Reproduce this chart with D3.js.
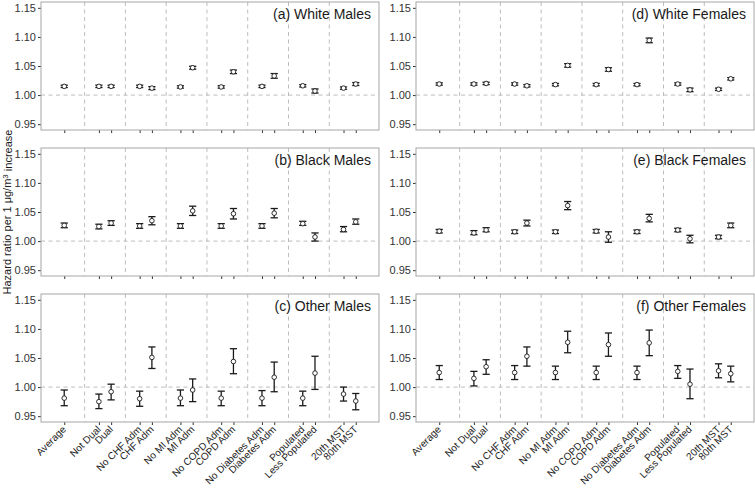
<!DOCTYPE html>
<html><head><meta charset="utf-8">
<script src="https://cdn.jsdelivr.net/npm/d3@7"></script>
<style>
html,body{margin:0;padding:0;background:#fff;}
svg{display:block;font-family:"Liberation Sans",Arial,sans-serif;}
</style></head>
<body>
<svg id="chart" width="755" height="490"></svg>
<script>
// Categories (x-axis tick labels), their group index and side within group
const categories = ["Average","Not Dual","Dual","No CHF Adm","CHF Adm","No MI Adm","MI Adm",
  "No COPD Adm","COPD Adm","No Diabetes Adm","Diabetes Adm","Populated","Less Populated","20th MST","80th MST"];
const groupIndex = [1,2,2,3,3,4,4,5,5,6,6,7,7,8,8];
const groupSide  = [0,-1,1,-1,1,-1,1,-1,1,-1,1,-1,1,-1,1];
const yTicks = [0.95,1.00,1.05,1.10,1.15];
const panelTitles = ["(a) White Males","(b) Black Males","(c) Other Males",
  "(d) White Females","(e) Black Females","(f) Other Females"];

// Hazard ratio estimates, lower and upper 95% CI
const whiteMalesEst = [1.015,1.015,1.015,1.015,1.012,1.014,1.047,1.014,1.040,1.015,1.033,1.016,1.007,1.012,1.019];
const whiteMalesLo  = [1.013,1.013,1.013,1.013,1.0095,1.012,1.0445,1.012,1.037,1.013,1.029,1.014,1.0035,1.010,1.0165];
const whiteMalesHi  = [1.017,1.017,1.017,1.017,1.0145,1.016,1.0495,1.016,1.043,1.017,1.037,1.018,1.0105,1.014,1.0215];

const blackMalesEst = [1.027,1.025,1.031,1.026,1.035,1.026,1.052,1.026,1.047,1.026,1.048,1.030,1.007,1.020,1.033];
const blackMalesLo  = [1.023,1.021,1.027,1.022,1.028,1.022,1.044,1.022,1.038,1.022,1.040,1.027,1.000,1.016,1.029];
const blackMalesHi  = [1.031,1.029,1.035,1.030,1.042,1.030,1.060,1.030,1.056,1.030,1.056,1.034,1.014,1.025,1.038];

const otherMalesEst = [0.981,0.975,0.992,0.980,1.051,0.981,0.995,0.981,1.044,0.981,1.017,0.981,1.024,0.988,0.976];
const otherMalesLo  = [0.968,0.963,0.978,0.967,1.032,0.968,0.975,0.968,1.023,0.968,0.992,0.968,0.996,0.976,0.961];
const otherMalesHi  = [0.995,0.988,1.005,0.993,1.069,0.995,1.014,0.993,1.066,0.994,1.043,0.993,1.053,1.000,0.989];

const whiteFemalesEst = [1.019,1.019,1.020,1.019,1.016,1.018,1.051,1.018,1.044,1.018,1.094,1.019,1.009,1.010,1.028];
const whiteFemalesLo  = [1.017,1.017,1.018,1.017,1.014,1.016,1.048,1.016,1.041,1.016,1.090,1.017,1.006,1.008,1.026];
const whiteFemalesHi  = [1.021,1.021,1.022,1.021,1.018,1.020,1.054,1.020,1.047,1.020,1.098,1.021,1.012,1.012,1.030];

const blackFemalesEst = [1.017,1.014,1.019,1.016,1.031,1.016,1.061,1.017,1.007,1.016,1.039,1.019,1.004,1.007,1.027];
const blackFemalesLo  = [1.014,1.011,1.016,1.013,1.026,1.013,1.054,1.014,0.998,1.013,1.033,1.016,0.997,1.004,1.023];
const blackFemalesHi  = [1.020,1.018,1.023,1.019,1.036,1.019,1.068,1.020,1.016,1.019,1.046,1.022,1.010,1.010,1.031];

const otherFemalesEst = [1.025,1.015,1.035,1.025,1.053,1.025,1.077,1.025,1.073,1.025,1.076,1.027,1.005,1.028,1.023];
const otherFemalesLo  = [1.013,1.002,1.022,1.013,1.036,1.013,1.059,1.013,1.053,1.013,1.054,1.015,0.980,1.016,1.009];
const otherFemalesHi  = [1.037,1.027,1.047,1.037,1.069,1.036,1.096,1.036,1.093,1.036,1.098,1.037,1.031,1.040,1.036];

const panels = [
  {title: panelTitles[0], est: whiteMalesEst,   lo: whiteMalesLo,   hi: whiteMalesHi,   col:0,row:0},
  {title: panelTitles[1], est: blackMalesEst,   lo: blackMalesLo,   hi: blackMalesHi,   col:0,row:1},
  {title: panelTitles[2], est: otherMalesEst,   lo: otherMalesLo,   hi: otherMalesHi,   col:0,row:2},
  {title: panelTitles[3], est: whiteFemalesEst, lo: whiteFemalesLo, hi: whiteFemalesHi, col:1,row:0},
  {title: panelTitles[4], est: blackFemalesEst, lo: blackFemalesLo, hi: blackFemalesHi, col:1,row:1},
  {title: panelTitles[5], est: otherFemalesEst, lo: otherFemalesLo, hi: otherFemalesHi, col:1,row:2}
];

const svg = d3.select("#chart");
const colX = [41, 416], rowY = [2, 148, 294];
const pw = 338, ph = 128;
const xPos = categories.map((c,i)=> groupIndex[i] + groupSide[i]*0.15);
const dividers = d3.range(1.5, 8.5, 1);

panels.forEach(p => {
  const x0 = colX[p.col], y0 = rowY[p.row];
  const g = svg.append("g").attr("transform", `translate(${x0},${y0})`);
  const x = d3.scaleLinear().domain([0.43, 8.72]).range([0, pw]);
  const y = d3.scaleLinear().domain([0.94, 1.16]).range([ph, 0]);

  // dashed reference lines
  g.selectAll(".vdiv").data(dividers).join("line")
    .attr("x1", d=>x(d)).attr("x2", d=>x(d)).attr("y1",0).attr("y2",ph)
    .attr("stroke","#bdbdbd").attr("stroke-width",1).attr("stroke-dasharray","4,3.5");
  g.append("line").attr("x1",0).attr("x2",pw).attr("y1",y(1)).attr("y2",y(1))
    .attr("stroke","#bdbdbd").attr("stroke-width",1).attr("stroke-dasharray","4,3.5");

  // y axis
  const ya = d3.axisLeft(y).tickValues(yTicks).tickFormat(d3.format(".2f")).tickSize(3).tickPadding(2);
  const yg = g.append("g").call(ya);
  yg.select(".domain").remove();
  yg.selectAll("line").attr("stroke","#333");
  yg.selectAll("text").attr("font-size","11px").attr("fill","#333")
    .attr("font-family","Liberation Sans, Arial, sans-serif");

  // x axis
  const xa = d3.axisBottom(x).tickValues(xPos).tickFormat((d,i)=>categories[i]).tickSize(3);
  const xg = g.append("g").attr("transform",`translate(0,${ph})`).call(xa);
  xg.select(".domain").remove();
  xg.selectAll("line").attr("stroke","#333");
  if (p.row === 2) {
    xg.selectAll("text").attr("font-size","10px").attr("fill","#222")
      .attr("font-family","Liberation Sans, Arial, sans-serif")
      .attr("text-anchor","end").attr("dy",null).attr("y",null)
      .attr("transform","translate(2,8) rotate(-45)");
  } else {
    xg.selectAll("text").remove();
  }

  // error bars
  const cw = 3.6;
  const eb = g.append("g").selectAll("g").data(p.est.map((e,i)=>({e, lo:p.lo[i], hi:p.hi[i], xv:xPos[i]}))).join("g");
  eb.append("line").attr("x1",d=>x(d.xv)).attr("x2",d=>x(d.xv)).attr("y1",d=>y(d.lo)).attr("y2",d=>y(d.hi))
    .attr("stroke","#1a1a1a").attr("stroke-width",1.3);
  eb.append("line").attr("x1",d=>x(d.xv)-cw).attr("x2",d=>x(d.xv)+cw).attr("y1",d=>y(d.lo)).attr("y2",d=>y(d.lo))
    .attr("stroke","#1a1a1a").attr("stroke-width",1.3);
  eb.append("line").attr("x1",d=>x(d.xv)-cw).attr("x2",d=>x(d.xv)+cw).attr("y1",d=>y(d.hi)).attr("y2",d=>y(d.hi))
    .attr("stroke","#1a1a1a").attr("stroke-width",1.3);
  eb.append("circle").attr("cx",d=>x(d.xv)).attr("cy",d=>y(d.e)).attr("r",2.3)
    .attr("fill","#fff").attr("stroke","#1a1a1a").attr("stroke-width",0.9);

  // border
  g.append("rect").attr("x",0).attr("y",0).attr("width",pw).attr("height",ph)
    .attr("fill","none").attr("stroke","#a6a6a6").attr("stroke-width",1);

  // title
  g.append("text").attr("x",pw-8).attr("y",17).attr("text-anchor","end")
    .attr("font-size","14px").attr("fill","#1a1a1a").text(p.title);
});

// y-axis title
const yt = svg.append("text").attr("transform","translate(11,212) rotate(-90)")
  .attr("text-anchor","middle").attr("font-size","11px").attr("fill","#1a1a1a");
yt.append("tspan").text("Hazard ratio per 1 \u03bcg/m");
yt.append("tspan").attr("dy","-0.4em").attr("font-size","8px").text("3");
yt.append("tspan").attr("dy","0.4em").text(" increase");
</script>
</body></html>
